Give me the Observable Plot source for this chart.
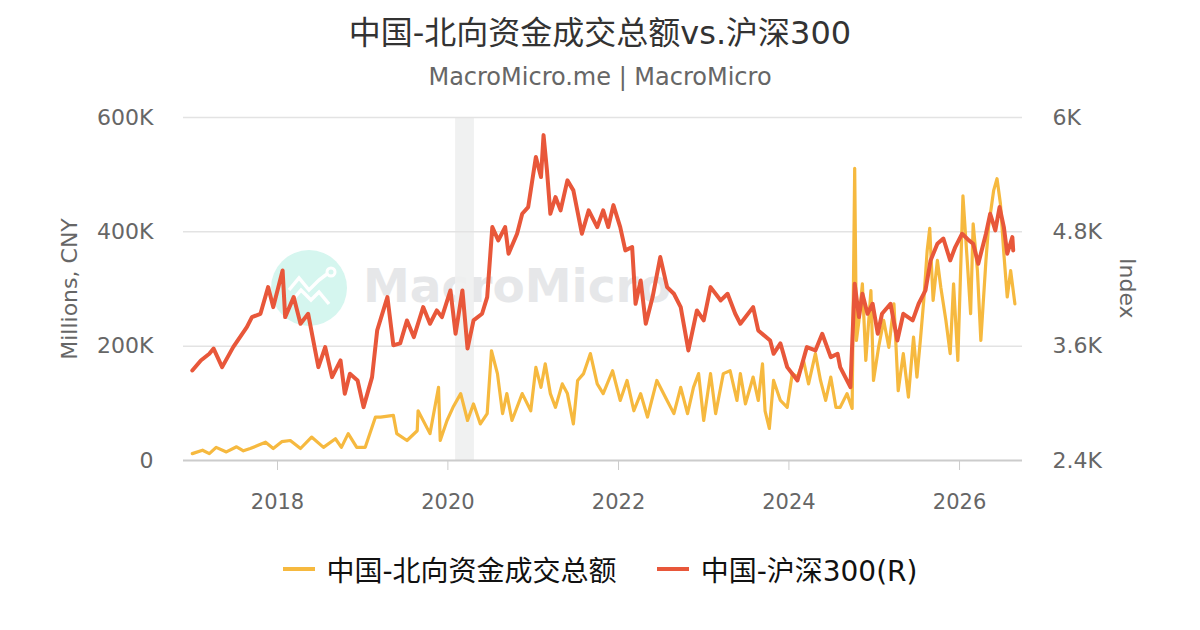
<!DOCTYPE html>
<html>
<head>
<meta charset="utf-8">
<script src="https://cdn.jsdelivr.net/npm/d3@7"></script>
<script src="https://cdn.jsdelivr.net/npm/@observablehq/plot@0.6"></script>
<style>
  html, body { margin: 0; padding: 0; background: #fff; }
  body { width: 1200px; height: 630px; position: relative; overflow: hidden;
         font-family: "DejaVu Sans", "Noto Sans CJK SC", sans-serif; }
  #head { height: 100px; text-align: center; position: relative; }
  #title { position: absolute; left: 0; right: 0; top: 7px; font-size: 32px; color: #333; }
  #sub { position: absolute; left: 0; right: 0; top: 63px; font-size: 24px; color: #666; }
  #chart { position: relative; height: 420px; }
  #wm { position: absolute; left: 0; top: 0; width: 1200px; height: 420px; pointer-events: none; }
  #wm .circle { position: absolute; left: 271px; top: 150px; width: 76px; height: 76px; border-radius: 50%; background: #d5f6ef; }
  #wm .word { position: absolute; left: 363px; top: 158px; font-size: 47px; font-weight: bold; color: #e6e7e9; }
  #ylabR { position: absolute; left: 1115px; top: 0; height: 343px; margin-top: 17px; display: flex; align-items: center; }
  #ylabR span { writing-mode: vertical-rl; font-size: 22px; color: #666; }
  #chart svg { position: relative; }
  #legend { height: 110px; display: flex; justify-content: center; align-items: center; gap: 40px; font-size: 28px; color: #111; padding-bottom: 12px; box-sizing: border-box; }
  #legend .item { display: flex; align-items: center; }
  #legend .sw { display: inline-block; width: 32px; height: 4px; margin-right: 12px; }
</style>
</head>
<body>
<div id="head">
  <div id="title">中国-北向资金成交总额vs.沪深300</div>
  <div id="sub">MacroMicro.me | MacroMicro</div>
</div>
<div id="chart">
  <div id="wm">
    <div class="circle">
      <svg width="76" height="76" viewBox="0 0 76 76"><polyline points="18,40 28,28 38,40 48,30 56,24" fill="none" stroke="#fff" stroke-width="3.5"/><polyline points="20,52 30,40 40,50 48,42 58,54" fill="none" stroke="#fff" stroke-width="3.5"/><circle cx="60" cy="22" r="4" fill="none" stroke="#fff" stroke-width="3"/></svg>
    </div>
    <div class="word">MacroMicro</div>
  </div>
  <div id="ylabR"><span>Index</span></div>
</div>
<div id="legend">
  <div class="item"><span class="sw" style="background:#f6b93f"></span>中国-北向资金成交总额</div>
  <div class="item"><span class="sw" style="background:#e8573a"></span>中国-沪深300(R)</div>
</div>
<script>
// ---- Data (decimal year, value) ----
const hs300Time = [2017.00,2017.10,2017.20,2017.25,2017.35,2017.48,2017.64,2017.70,2017.80,2017.89,2017.95,2018.06,2018.09,2018.19,2018.27,2018.36,2018.48,2018.56,2018.64,2018.74,2018.79,2018.85,2018.94,2019.01,2019.11,2019.17,2019.29,2019.36,2019.44,2019.52,2019.60,2019.71,2019.79,2019.87,2019.93,2020.03,2020.09,2020.17,2020.23,2020.30,2020.40,2020.46,2020.52,2020.59,2020.67,2020.71,2020.81,2020.87,2020.94,2021.03,2021.09,2021.12,2021.16,2021.20,2021.26,2021.32,2021.40,2021.47,2021.57,2021.65,2021.75,2021.82,2021.88,2021.94,2022.02,2022.08,2022.16,2022.20,2022.26,2022.32,2022.40,2022.49,2022.57,2022.65,2022.73,2022.82,2022.92,2023.00,2023.08,2023.20,2023.28,2023.37,2023.43,2023.58,2023.64,2023.78,2023.82,2023.90,2023.98,2024.10,2024.21,2024.31,2024.39,2024.49,2024.57,2024.60,2024.72,2024.77,2024.82,2024.86,2024.92,2024.98,2025.04,2025.09,2025.19,2025.27,2025.34,2025.45,2025.52,2025.60,2025.66,2025.74,2025.81,2025.89,2025.95,2026.03,2026.11,2026.16,2026.22,2026.31,2026.36,2026.42,2026.47,2026.52,2026.56,2026.62,2026.63];
const hs300Value = [3345,3450,3520,3575,3380,3590,3800,3905,3940,4220,4010,4395,3905,4115,3835,3940,3380,3590,3275,3450,3100,3310,3240,2960,3275,3765,4115,3610,3630,3870,3695,4010,3835,3975,3905,4185,3730,4185,3575,3870,3940,4115,4850,4710,4850,4570,4780,4990,5060,5585,5375,5815,5445,4990,5165,5025,5340,5235,4780,5025,4850,5025,4850,5080,4850,4605,4640,4045,4290,3835,4115,4535,4220,4150,4010,3555,3975,3870,4220,4080,4150,3940,3835,4010,3765,3660,3520,3630,3380,3240,3590,3555,3730,3485,3520,3380,3170,4255,3905,4150,3940,4045,3730,3940,4045,3660,3940,3870,4045,4185,4500,4675,4730,4500,4640,4780,4710,4675,4465,4780,4990,4815,5060,4850,4570,4745,4605];

const northTime = [2017.00,2017.12,2017.20,2017.28,2017.40,2017.52,2017.60,2017.68,2017.78,2017.86,2017.95,2018.05,2018.15,2018.27,2018.40,2018.54,2018.68,2018.75,2018.83,2018.93,2019.03,2019.15,2019.21,2019.36,2019.40,2019.52,2019.64,2019.65,2019.79,2019.89,2019.91,2019.99,2020.06,2020.15,2020.23,2020.30,2020.38,2020.46,2020.51,2020.58,2020.64,2020.69,2020.75,2020.87,2020.97,2021.03,2021.09,2021.14,2021.20,2021.26,2021.34,2021.40,2021.47,2021.52,2021.59,2021.67,2021.75,2021.82,2021.93,2022.02,2022.10,2022.18,2022.26,2022.34,2022.45,2022.57,2022.65,2022.73,2022.81,2022.88,2022.94,2023.00,2023.08,2023.14,2023.23,2023.31,2023.39,2023.43,2023.49,2023.58,2023.64,2023.69,2023.72,2023.77,2023.82,2023.90,2023.98,2024.04,2024.10,2024.17,2024.23,2024.31,2024.37,2024.43,2024.49,2024.55,2024.60,2024.68,2024.74,2024.77,2024.79,2024.82,2024.86,2024.90,2024.96,2024.99,2025.05,2025.11,2025.17,2025.23,2025.28,2025.34,2025.40,2025.46,2025.50,2025.54,2025.58,2025.62,2025.65,2025.69,2025.74,2025.78,2025.84,2025.89,2025.93,2025.98,2026.04,2026.09,2026.13,2026.16,2026.21,2026.25,2026.31,2026.34,2026.40,2026.44,2026.48,2026.52,2026.56,2026.60,2026.65];
const northValue = [12000,18000,12000,23000,15000,24000,17000,21000,27000,32000,21000,33000,35000,21000,41000,23000,38000,23000,47000,23000,23000,76000,76000,79000,47000,35000,52000,87000,47000,128000,35000,70000,93000,117000,70000,99000,64000,82000,192000,152000,82000,117000,70000,117000,87000,163000,128000,169000,117000,93000,134000,117000,64000,140000,152000,187000,134000,117000,157000,105000,140000,87000,117000,76000,140000,105000,82000,128000,82000,128000,152000,70000,152000,82000,152000,157000,105000,152000,99000,146000,105000,169000,87000,56000,140000,105000,93000,152000,146000,175000,134000,187000,140000,105000,146000,93000,93000,117000,91000,511000,210000,245000,309000,175000,297000,140000,198000,245000,198000,274000,122000,187000,111000,216000,146000,210000,280000,367000,406000,280000,350000,303000,245000,187000,309000,175000,463000,350000,257000,414000,332000,210000,350000,408000,472000,493000,449000,362000,286000,332000,274000];

const recessionStart = [2020.09];
const recessionEnd = [2020.31];

const leftTicks = [0, 200000, 400000, 600000];
const rightTicks = [2400, 3600, 4800, 6000];
const xTickYears = [2018, 2020, 2022, 2024, 2026];
const xDomainYears = [2016.897, 2026.739];

// ---- helpers ----
function dec(y) {
  const yr = Math.floor(y);
  const s = Date.UTC(yr, 0, 1), e = Date.UTC(yr + 1, 0, 1);
  return new Date(s + (y - yr) * (e - s));
}
const rMin = rightTicks[0], rMax = rightTicks[rightTicks.length - 1];
const lMin = leftTicks[0], lMax = leftTicks[leftTicks.length - 1];
const toLeft = v => lMin + (v - rMin) / (rMax - rMin) * (lMax - lMin);
const fromLeft = v => rMin + (v - lMin) / (lMax - lMin) * (rMax - rMin);
const fmtK = v => { v = Math.round(v); return v === 0 ? "0" : (v >= 1000 ? (+(v / 1000).toFixed(1)) + "K" : String(v)); };

const hs300 = hs300Time.map((t, i) => ({date: dec(t), value: toLeft(hs300Value[i])}));
const north = northTime.map((t, i) => ({date: dec(t), value: northValue[i]}));
const recession = recessionStart.map((s, i) => ({start: dec(s), end: dec(recessionEnd[i])}));

const chart = Plot.plot({
  width: 1200,
  height: 420,
  marginTop: 17,
  marginBottom: 60,
  marginLeft: 183,
  marginRight: 178,
  style: {background: "transparent", fontFamily: "'DejaVu Sans', 'Noto Sans CJK SC', sans-serif", color: "#666", overflow: "visible"},
  x: {type: "utc", domain: xDomainYears.map(dec)},
  y: {domain: [lMin, lMax]},
  marks: [
    Plot.rect(recession, {x1: "start", x2: "end", fill: "#eeefef", fillOpacity: 0.9}),
    Plot.ruleY(leftTicks.slice(1), {stroke: "#e3e3e3", strokeWidth: 1.5}),
    Plot.axisY(leftTicks, {anchor: "left", tickSize: 0, tickPadding: 30, fontSize: 22, fill: "#666",
      tickFormat: fmtK, label: "Millions, CNY", labelAnchor: "center", labelOffset: 122, labelArrow: "none"}),
    Plot.axisY(rightTicks.map(toLeft), {anchor: "right", tickSize: 0, tickPadding: 30, fontSize: 22, fill: "#666",
      tickFormat: d => fmtK(fromLeft(d)), label: null}),
    Plot.axisX(xTickYears.map(y => dec(y)), {tickSize: 10, tickPadding: 24, fontSize: 21, fill: "#666", stroke: "#ccc",
      tickFormat: d3.utcFormat("%Y"), label: null}),
    Plot.ruleY([0], {stroke: "#ccc", strokeWidth: 2}),
    Plot.line(north, {x: "date", y: "value", stroke: "#f6b93f", strokeWidth: 3.2}),
    Plot.line(hs300, {x: "date", y: "value", stroke: "#e8573a", strokeWidth: 4})
  ]
});
document.getElementById("chart").appendChild(chart);
</script>
</body>
</html>
